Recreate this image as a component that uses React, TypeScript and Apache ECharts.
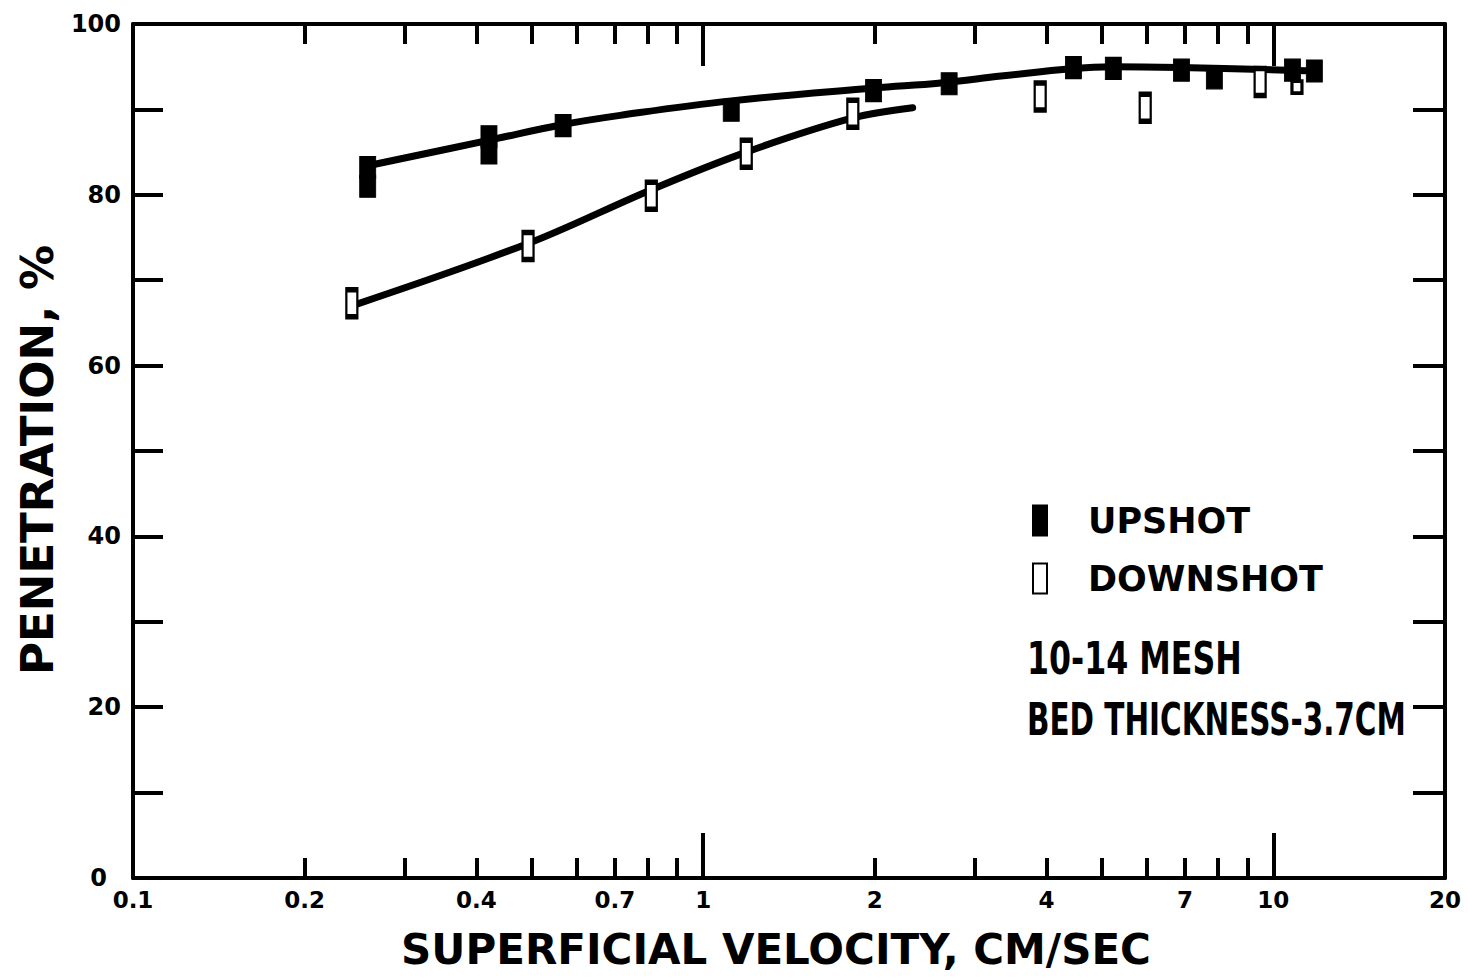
import React, { useEffect, useRef } from "react";
import * as echarts from "echarts";

// ---- data ----
const upshotVelocity = [0.258, 0.258, 0.421, 0.421, 0.568, 1.12, 1.99, 2.7, 4.46, 5.24, 6.9, 7.88, 10.8, 11.8];
const upshotPenetration = [83.2, 81.0, 86.8, 84.9, 88.1, 89.9, 92.2, 93.0, 94.9, 94.8, 94.6, 93.7, 94.6, 94.5];

const downshotVelocity = [0.242, 0.493, 0.811, 1.19, 1.83, 3.9, 5.96, 9.48, 11.0];
const downshotPenetration = [67.3, 74.0, 79.9, 84.8, 89.5, 91.5, 90.2, 93.2, 92.6];

const upshotCurveVelocity = [0.258, 0.422, 0.565, 0.715, 1.12, 1.99, 2.61, 3.33, 4.46, 5.24, 6.86, 11.8];
const upshotCurvePenetration = [83.4, 86.4, 88.2, 89.3, 91.0, 92.5, 93.1, 93.9, 94.8, 95.0, 94.9, 94.5];

const downshotCurveVelocity = [0.242, 0.493, 0.811, 1.19, 1.83, 2.33];
const downshotCurvePenetration = [67.0, 74.3, 80.6, 85.0, 89.0, 90.2];

const xLabelValues = [0.1, 0.2, 0.4, 0.7, 1, 2, 4, 7, 10, 20];
const xLabelTexts = ["0.1", "0.2", "0.4", "0.7", "1", "2", "4", "7", "10", "20"];
const xMinorTicks = [0.2, 0.3, 0.4, 0.5, 0.6, 0.7, 0.8, 0.9, 2, 3, 4, 5, 6, 7, 8, 9];
const xMajorTicks = [1, 10];

const seriesNames = ["UPSHOT", "DOWNSHOT"];
const annotationLines = ["10-14 MESH", "BED THICKNESS-3.7CM"];
const xAxisTitle = "SUPERFICIAL VELOCITY, CM/SEC";
const yAxisTitle = "PENETRATION, %";

const FONT = "'DejaVu Sans', 'Noto Sans', sans-serif";

const pairs = (xs: number[], ys: number[]) => xs.map((x, i) => [x, ys[i]]);

const baseX = {
  type: "log" as const,
  logBase: 10,
  min: 0.1,
  max: 20,
  splitLine: { show: false },
  minorTick: { show: false },
  minorSplitLine: { show: false },
};

export default function App() {
  const ref = useRef<HTMLDivElement>(null);

  useEffect(() => {
    if (!ref.current) return;
    const chart = echarts.init(ref.current, undefined, { renderer: "svg" });

    const labelFmt = (v: number) => {
      const i = xLabelValues.findIndex((u) => Math.abs(u - v) < 1e-9);
      return i >= 0 ? xLabelTexts[i] : "";
    };

    const option: any = {
      animation: false,
      backgroundColor: "#ffffff",
      grid: {
        left: 133,
        right: 23,
        top: 24,
        bottom: 99,
        containLabel: false,
        outerBoundsMode: "none",
      },
      legend: {
        data: seriesNames,
        orient: "vertical",
        left: 1032,
        top: 503,
        padding: 0,
        itemGap: 23,
        itemWidth: 14,
        itemHeight: 30,
        selectedMode: false,
        textStyle: {
          fontFamily: FONT,
          fontWeight: "bold",
          fontSize: 35,
          color: "#000",
          padding: [0, 0, 0, 36],
        },
      },
      xAxis: [
        {
          ...baseX,
          position: "bottom",
          axisLine: { show: true, lineStyle: { color: "#000", width: 4 } },
          axisTick: {
            show: true,
            inside: true,
            length: 20,
            customValues: xMinorTicks,
            lineStyle: { color: "#000", width: 4 },
          },
          axisLabel: {
            show: true,
            customValues: xLabelValues,
            formatter: labelFmt,
            color: "#000",
            fontFamily: FONT,
            fontWeight: "bold",
            fontSize: 23,
            margin: 10,
          },
          name: xAxisTitle,
          nameLocation: "middle",
          nameGap: 50,
          nameTextStyle: {
            color: "#000",
            fontFamily: FONT,
            fontWeight: "bold",
            fontSize: 42,
            lineHeight: 42,
            padding: [0, 26, 0, 0],
          },
        },
        {
          ...baseX,
          position: "bottom",
          axisLine: { show: false },
          axisTick: {
            show: true,
            inside: true,
            length: 45,
            customValues: xMajorTicks,
            lineStyle: { color: "#000", width: 4 },
          },
          axisLabel: { show: false },
        },
        {
          ...baseX,
          position: "top",
          axisLine: { show: true, lineStyle: { color: "#000", width: 4 } },
          axisTick: {
            show: true,
            inside: true,
            length: 20,
            customValues: xMinorTicks,
            lineStyle: { color: "#000", width: 4 },
          },
          axisLabel: { show: false },
        },
        {
          ...baseX,
          position: "top",
          axisLine: { show: false },
          axisTick: {
            show: true,
            inside: true,
            length: 42,
            customValues: xMajorTicks,
            lineStyle: { color: "#000", width: 4 },
          },
          axisLabel: { show: false },
        },
      ],
      yAxis: [
        {
          type: "value",
          min: 0,
          max: 100,
          interval: 10,
          position: "left",
          splitLine: { show: false },
          axisLine: { show: true, lineStyle: { color: "#000", width: 4 } },
          axisTick: { show: true, inside: true, length: 30, lineStyle: { color: "#000", width: 4 } },
          axisLabel: {
            show: true,
            formatter: (v: number) => (v === 0 ? "{z|0}" : v % 20 === 0 ? String(v) : ""),
            rich: {
              z: {
                fontFamily: FONT,
                fontWeight: "bold",
                fontSize: 24,
                color: "#000",
                padding: [0, 14, 0, 0],
              },
            },
            color: "#000",
            fontFamily: FONT,
            fontWeight: "bold",
            fontSize: 24,
            margin: 12,
          },
          name: yAxisTitle,
          nameLocation: "middle",
          nameRotate: 90,
          nameGap: 70,
          nameTextStyle: {
            color: "#000",
            fontFamily: FONT,
            fontWeight: "bold",
            fontSize: 45,
            padding: [0, 18, 0, 0],
          },
        },
        {
          type: "value",
          min: 0,
          max: 100,
          interval: 10,
          position: "right",
          splitLine: { show: false },
          axisLine: { show: true, lineStyle: { color: "#000", width: 4 } },
          axisTick: { show: true, inside: true, length: 32, lineStyle: { color: "#000", width: 4 } },
          axisLabel: { show: false },
        },
      ],
      graphic: [
        {
          type: "text",
          x: 1027,
          y: 659,
          scaleX: 0.72,
          style: {
            text: annotationLines[0],
            fill: "#000",
            fontFamily: FONT,
            fontWeight: "bold",
            fontSize: 44,
            align: "left",
            verticalAlign: "middle",
          },
        },
        {
          type: "text",
          x: 1027,
          y: 720,
          scaleX: 0.67,
          style: {
            text: annotationLines[1],
            fill: "#000",
            fontFamily: FONT,
            fontWeight: "bold",
            fontSize: 44,
            align: "left",
            verticalAlign: "middle",
          },
        },
      ],
      series: [
        {
          name: "upshot fit",
          type: "line",
          xAxisIndex: 0,
          yAxisIndex: 0,
          smooth: 0.4,
          symbol: "none",
          data: pairs(upshotCurveVelocity, upshotCurvePenetration),
          lineStyle: { color: "#000", width: 7, cap: "round" },
          z: 2,
        },
        {
          name: "downshot fit",
          type: "line",
          xAxisIndex: 0,
          yAxisIndex: 0,
          smooth: 0.35,
          symbol: "none",
          data: pairs(downshotCurveVelocity, downshotCurvePenetration),
          lineStyle: { color: "#000", width: 7, cap: "round" },
          z: 2,
        },
        {
          name: seriesNames[0],
          type: "scatter",
          xAxisIndex: 0,
          yAxisIndex: 0,
          symbol: "rect",
          symbolSize: [16, 22],
          data: pairs(upshotVelocity, upshotPenetration),
          itemStyle: { color: "#000", borderColor: "#000", borderWidth: 1, opacity: 1 },
          z: 3,
        },
        {
          name: seriesNames[1],
          type: "scatter",
          xAxisIndex: 0,
          yAxisIndex: 0,
          symbol: "rect",
          symbolSize: (_v: any, p: any) => (p.dataIndex === 8 ? [10, 12] : [11, 27]),
          data: pairs(downshotVelocity, downshotPenetration),
          itemStyle: { color: "#fff", borderColor: "#000", borderWidth: 3.5, opacity: 1 },
          z: 3,
        },
      ],
    };

    chart.setOption(option);
    return () => chart.dispose();
  }, []);

  return (
    <div
      ref={ref}
      style={{ position: "fixed", left: 0, top: 0, width: 1468, height: 977, background: "#fff" }}
    />
  );
}
